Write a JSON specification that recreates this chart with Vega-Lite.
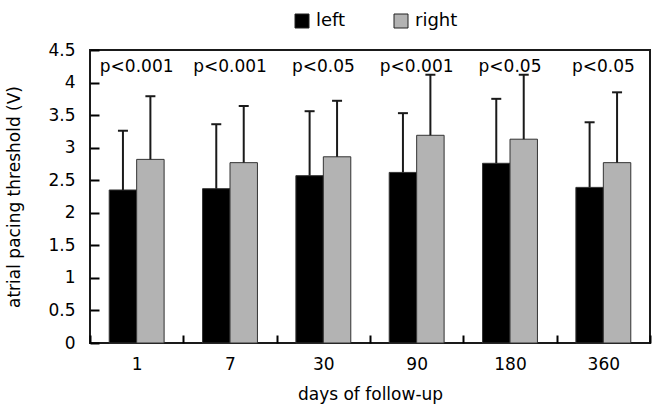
{
  "$schema": "https://vega.github.io/schema/vega-lite/v6.json",
  "autosize": "none",
  "width": 560,
  "height": 293,
  "padding": {"left": 90, "top": 50, "right": 5, "bottom": 66},
  "background": "white",
  "config": {
    "font": "DejaVu Sans",
    "view": {"stroke": "#1a1a1a", "strokeWidth": 2},
    "axis": {
      "grid": false,
      "domain": false,
      "zindex": 1,
      "tickColor": "#000000",
      "tickWidth": 2,
      "labelColor": "black",
      "titleColor": "black",
      "labelFontSize": 17,
      "titleFontSize": 17,
      "titleFontWeight": "normal"
    },
    "legend": {"labelFontSize": 18, "labelColor": "black"}
  },
  "datasets": {
    "bars": [
      {"day": "1", "side": "left", "mean": 2.35, "upper": 3.26},
      {"day": "1", "side": "right", "mean": 2.82, "upper": 3.79},
      {"day": "7", "side": "left", "mean": 2.37, "upper": 3.36},
      {"day": "7", "side": "right", "mean": 2.77, "upper": 3.64},
      {"day": "30", "side": "left", "mean": 2.57, "upper": 3.56},
      {"day": "30", "side": "right", "mean": 2.86, "upper": 3.72},
      {"day": "90", "side": "left", "mean": 2.62, "upper": 3.53},
      {"day": "90", "side": "right", "mean": 3.19, "upper": 4.12},
      {"day": "180", "side": "left", "mean": 2.76, "upper": 3.75},
      {"day": "180", "side": "right", "mean": 3.13, "upper": 4.12},
      {"day": "360", "side": "left", "mean": 2.39, "upper": 3.39},
      {"day": "360", "side": "right", "mean": 2.77, "upper": 3.85}
    ],
    "pvals": [
      {"day": "1", "p": "p<0.001", "mean": 4.24},
      {"day": "7", "p": "p<0.001", "mean": 4.24},
      {"day": "30", "p": "p<0.05", "mean": 4.24},
      {"day": "90", "p": "p<0.001", "mean": 4.24},
      {"day": "180", "p": "p<0.05", "mean": 4.24},
      {"day": "360", "p": "p<0.05", "mean": 4.24}
    ]
  },
  "encoding": {
    "x": {
      "field": "day",
      "type": "ordinal",
      "sort": ["1", "7", "30", "90", "180", "360"],
      "scale": {"paddingInner": 0, "paddingOuter": 0},
      "axis": {
        "title": "days of follow-up",
        "labelAngle": 0,
        "tickBand": "extent",
        "offset": -8,
        "tickSize": 8,
        "labelPadding": 13,
        "titlePadding": 14,
        "labelOverlap": false
      }
    },
    "y": {
      "field": "mean",
      "type": "quantitative",
      "scale": {"domain": [0, 4.5], "nice": false},
      "axis": {
        "title": "atrial pacing threshold (V)",
        "values": [0, 0.5, 1, 1.5, 2, 2.5, 3, 3.5, 4, 4.5],
        "labelExpr": "toString(datum.value)",
        "labelOverlap": false,
        "labelFlush": false,
        "offset": -9,
        "tickSize": 9,
        "labelPadding": 15,
        "titlePadding": 24
      }
    }
  },
  "layer": [
    {
      "data": {"name": "pvals"},
      "mark": {"type": "text", "fontSize": 17, "color": "black", "baseline": "middle"},
      "encoding": {
        "text": {"field": "p"}
      }
    },
    {
      "data": {"name": "bars"},
      "mark": {"type": "bar", "stroke": "#333333", "strokeWidth": 1},
      "encoding": {
        "xOffset": {
          "field": "side",
          "type": "nominal",
          "scale": {"paddingInner": 0, "paddingOuter": 0.7}
        },
        "color": {
          "field": "side",
          "type": "nominal",
          "scale": {"domain": ["left", "right"], "range": ["#000000", "#b3b3b3"]},
          "legend": {
            "title": null,
            "orient": "none",
            "direction": "horizontal",
            "legendX": 203,
            "legendY": -38,
            "symbolType": "square",
            "symbolSize": 196,
            "symbolStrokeColor": "#222222",
            "symbolStrokeWidth": 1,
            "symbolOpacity": 1,
            "columnPadding": 46,
            "labelOffset": 5,
            "padding": 0
          }
        }
      }
    },
    {
      "data": {"name": "bars"},
      "mark": {"type": "rule", "color": "#1a1a1a", "strokeWidth": 2},
      "encoding": {
        "xOffset": {"field": "side", "type": "nominal"},
        "y2": {"field": "upper"}
      }
    },
    {
      "data": {"name": "bars"},
      "mark": {"type": "tick", "color": "#1a1a1a", "size": 10, "thickness": 2, "opacity": 1},
      "encoding": {
        "xOffset": {"field": "side", "type": "nominal"},
        "y": {"field": "upper", "type": "quantitative"}
      }
    }
  ]
}
